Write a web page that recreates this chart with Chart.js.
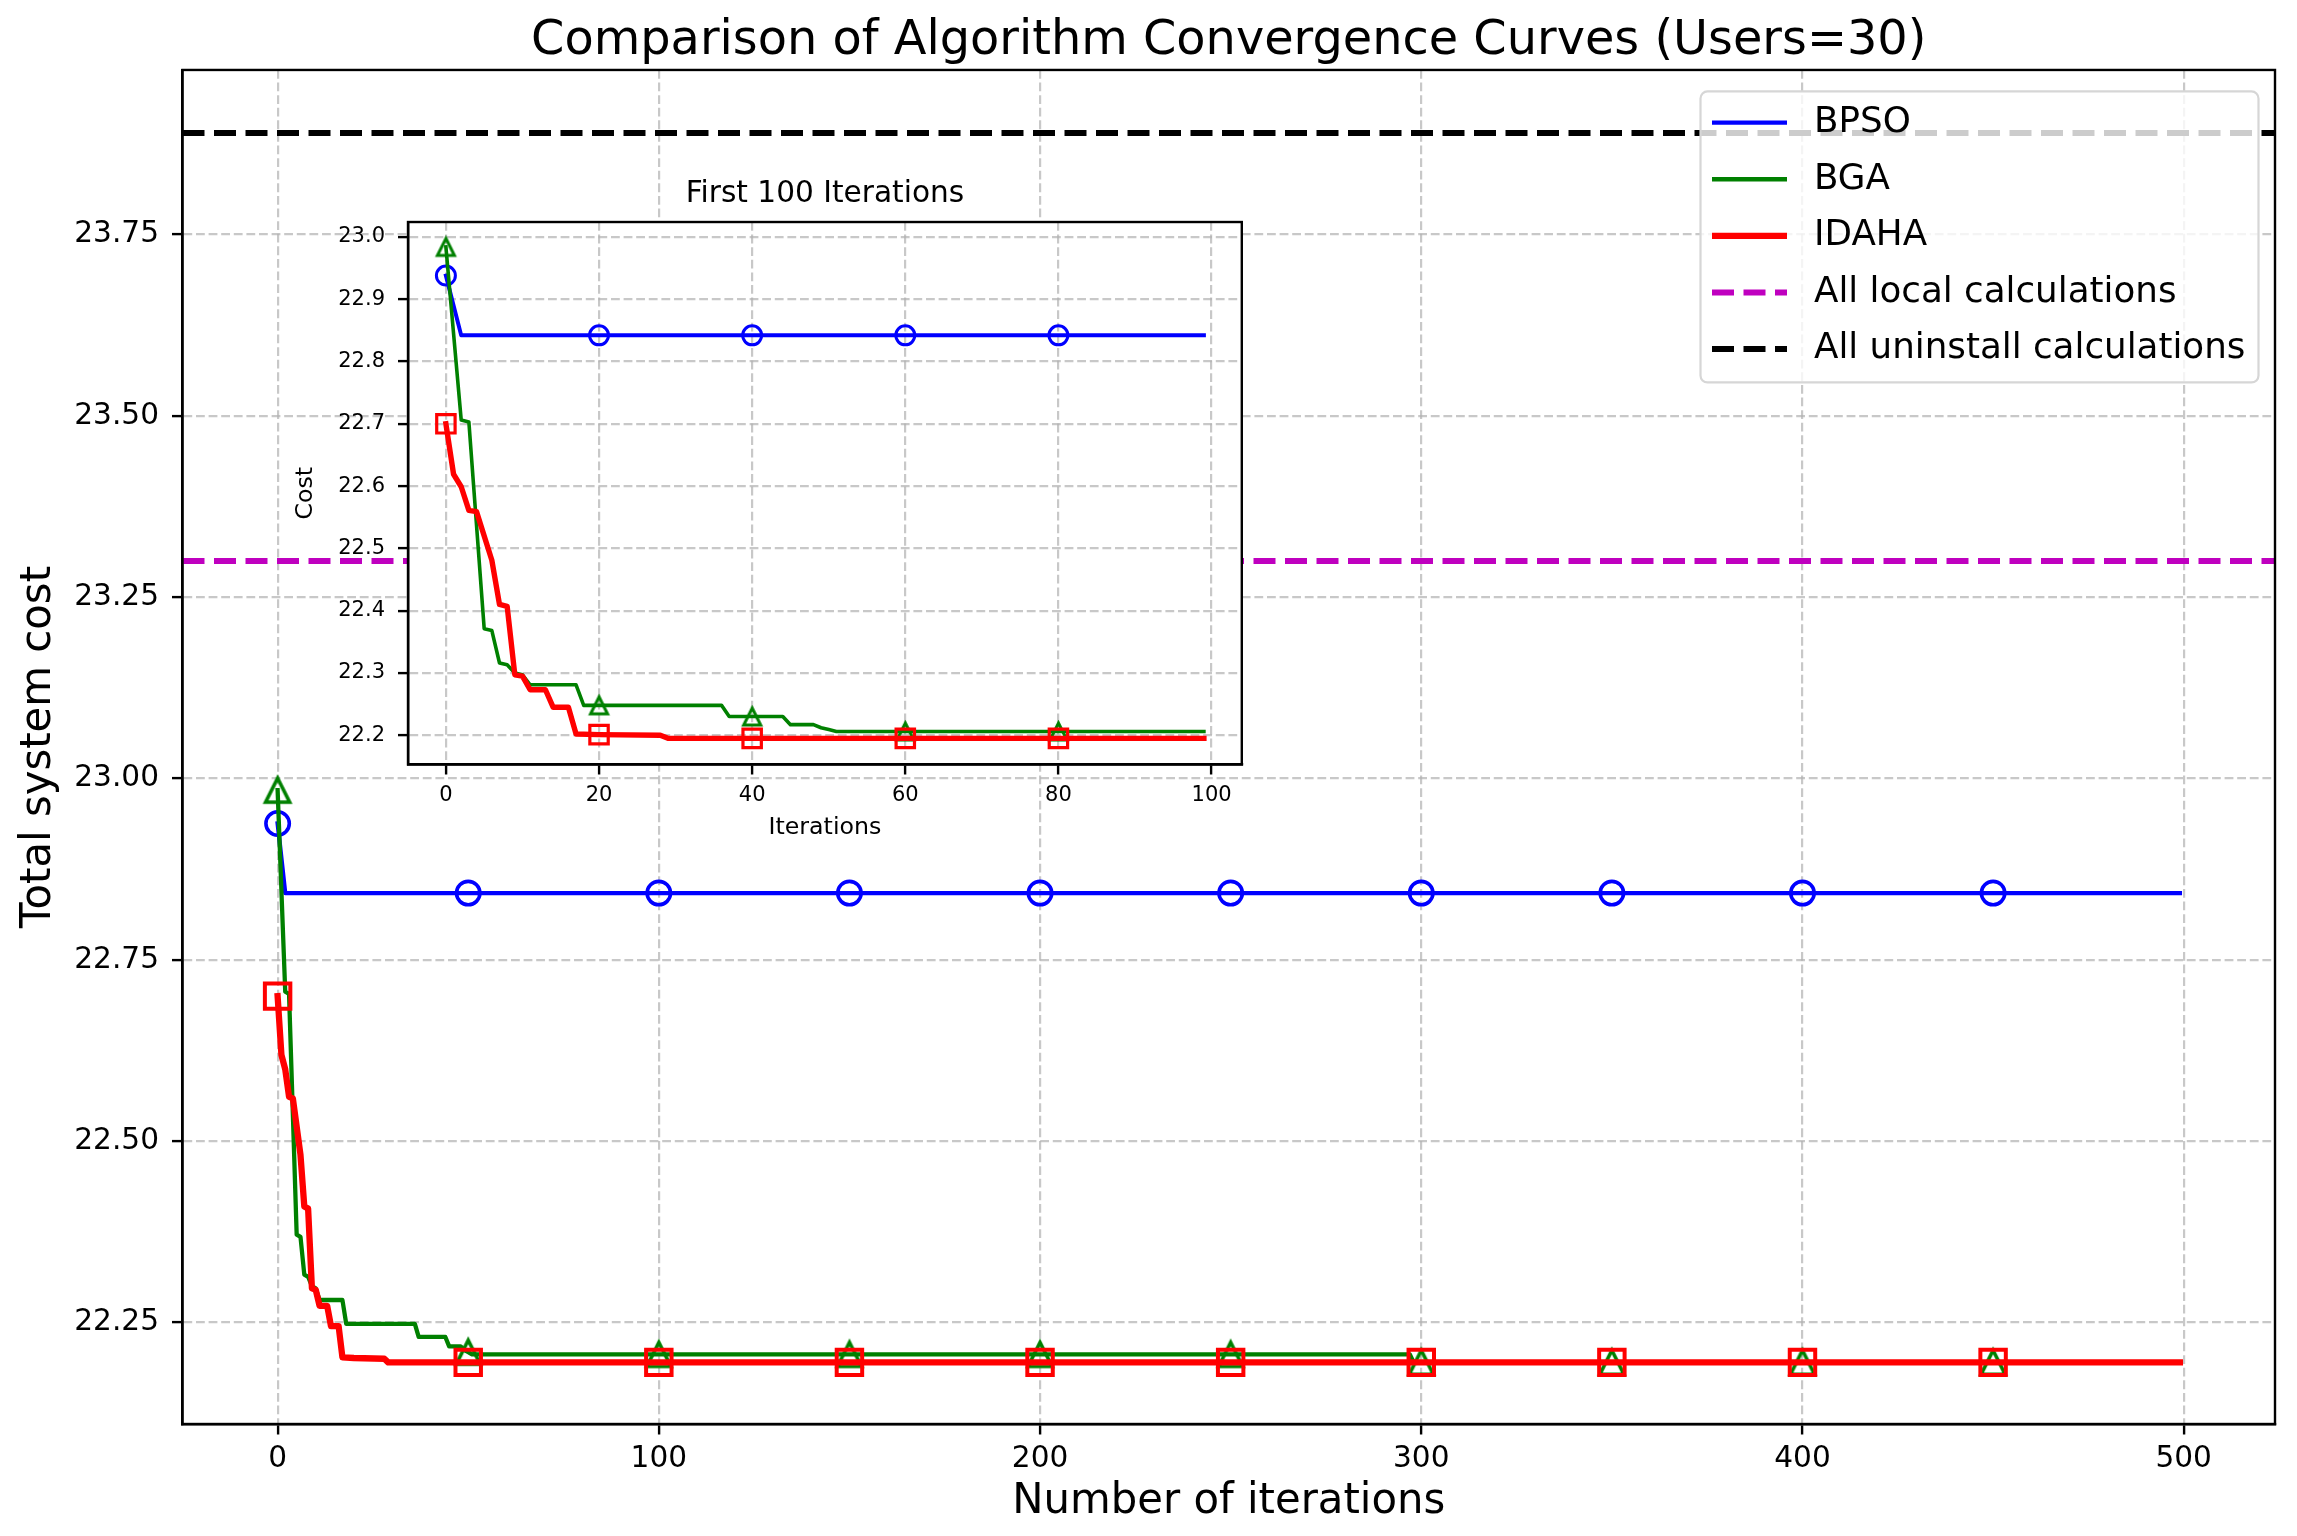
<!DOCTYPE html>
<html>
<head>
<meta charset="utf-8">
<title>Comparison of Algorithm Convergence Curves (Users=30)</title>
<script src="https://cdn.jsdelivr.net/npm/chart.js@4.4.1/dist/chart.umd.min.js"></script>
<style>
  html, body { margin: 0; padding: 0; background: #fff; }
  #wrap { position: relative; width: 2297px; height: 1536px; }
  #mainChart { position: absolute; left: 0; top: 0; width: 2297px; height: 1536px; }
  #insetChart { position: absolute; left: 258px; top: 150px; width: 1000px; height: 710px; }
</style>
</head>
<body>
<div id="wrap">
  <canvas id="mainChart" width="2297" height="1536"></canvas>
  <canvas id="insetChart" width="1000" height="710"></canvas>
</div>
<script>
// iterations where the curves change (plus marker spots), and the cost read there
const bpsoIter = [0, 2, 20, 40, 50, 60, 80, 99, 100, 150, 200, 250, 300, 350, 400, 450, 499];
const bpsoCost = [22.938, 22.842, 22.842, 22.842, 22.842, 22.842, 22.842, 22.842, 22.842,
                  22.842, 22.842, 22.842, 22.842, 22.842, 22.842, 22.842, 22.842];

const bgaIter = [0, 2, 3, 5, 6, 7, 8, 9, 10, 11, 17, 18, 20, 36, 37, 40, 44, 45, 48, 49,
                 50, 51, 60, 80, 99, 100, 150, 200, 250, 297, 298, 300, 350, 400, 450, 499];
const bgaCost = [22.984, 22.706, 22.703, 22.371, 22.368, 22.316, 22.313, 22.300, 22.297, 22.281,
                 22.281, 22.248, 22.248, 22.248, 22.230, 22.230, 22.230, 22.217, 22.217, 22.212,
                 22.209, 22.206, 22.206, 22.206, 22.206, 22.206, 22.206, 22.206, 22.206, 22.206,
                 22.195, 22.195, 22.195, 22.195, 22.195, 22.195];

const idahaIter = [0, 1, 2, 3, 4, 6, 7, 8, 9, 10, 11, 13, 14, 16, 17, 20, 28, 29, 40, 50,
                   60, 80, 99, 100, 150, 200, 250, 300, 350, 400, 450, 499];
const idahaCost = [22.700, 22.619, 22.599, 22.561, 22.559, 22.481, 22.410, 22.407, 22.297, 22.295,
                   22.273, 22.273, 22.245, 22.245, 22.202, 22.201, 22.200, 22.195, 22.195, 22.195,
                   22.195, 22.195, 22.195, 22.195, 22.195, 22.195, 22.195, 22.195, 22.195, 22.195,
                   22.195, 22.195];

const localCost = 23.30;      // All local calculations
const uninstallCost = 23.89;  // All uninstall calculations

const mainMarks = [0, 50, 100, 150, 200, 250, 300, 350, 400, 450];
const insetMarks = [0, 20, 40, 60, 80];

const xTicks = [0, 100, 200, 300, 400, 500];
const xTickLabels = ['0', '100', '200', '300', '400', '500'];
const yTicks = [22.25, 22.50, 22.75, 23.00, 23.25, 23.50, 23.75];
const yTickLabels = ['22.25', '22.50', '22.75', '23.00', '23.25', '23.50', '23.75'];

const insetXTicks = [0, 20, 40, 60, 80, 100];
const insetXTickLabels = ['0', '20', '40', '60', '80', '100'];
const insetYTicks = [22.2, 22.3, 22.4, 22.5, 22.6, 22.7, 22.8, 22.9, 23.0];
const insetYTickLabels = ['22.2', '22.3', '22.4', '22.5', '22.6', '22.7', '22.8', '22.9', '23.0'];

// axis limits (matplotlib-style 5% margins)
const xMin = -24.95, xMax = 523.95;
const yMin = 22.110, yMax = 23.977;
const insetXMin = -4.95, insetXMax = 103.95;
const insetYMin = 22.153, insetYMax = 23.024;

const FONT = "'DejaVu Sans', sans-serif";
Chart.defaults.font.family = FONT;
Chart.defaults.color = '#000';

function points(iters, costs, last) {
  const pts = [];
  iters.forEach((it, i) => { if (it <= last) pts.push({ x: it, y: costs[i] }); });
  return pts;
}

// open triangle drawn the matplotlib way (centred on its box)
function triangleMarker(side, lw, color) {
  const pad = Math.ceil(lw) + 3;
  const size = Math.ceil(side) + 2 * pad;
  const c = document.createElement('canvas');
  c.width = size; c.height = size;
  const g = c.getContext('2d');
  const m = size / 2, h = side / 2;
  g.strokeStyle = color;
  g.lineWidth = lw;
  g.beginPath();
  g.moveTo(m, m - h);
  g.lineTo(m + h, m + h);
  g.lineTo(m - h, m + h);
  g.closePath();
  g.stroke();
  return c;
}

const framePlugin = {
  id: 'frame',
  beforeDraw(chart, args, opts) {
    if (!opts.face) return;
    const a = chart.chartArea, ctx = chart.ctx;
    ctx.save();
    ctx.fillStyle = '#fff';
    ctx.fillRect(a.left, a.top, a.right - a.left, a.bottom - a.top);
    ctx.restore();
  },
  afterDatasetsDraw(chart, args, opts) {
    const a = chart.chartArea, ctx = chart.ctx;
    ctx.save();
    ctx.strokeStyle = '#000';
    ctx.lineWidth = opts.width;
    ctx.strokeRect(a.left, a.top, a.right - a.left, a.bottom - a.top);
    ctx.restore();
  }
};

const boxLegend = {
  id: 'boxLegend',
  afterDraw(chart, args, opts) {
    const ctx = chart.ctx, a = chart.chartArea;
    const w = 558, h = 291;
    const left = a.right - 16.5 - w, top = a.top + 21.5;
    ctx.save();
    ctx.beginPath();
    ctx.roundRect(left, top, w, h, 7);
    ctx.fillStyle = 'rgba(255,255,255,0.8)';
    ctx.fill();
    ctx.lineWidth = 2.2;
    ctx.strokeStyle = '#d6d6d6';
    ctx.stroke();
    ctx.font = '35.7px ' + FONT;
    ctx.textBaseline = 'middle';
    ctx.textAlign = 'left';
    chart.data.datasets.forEach((ds, i) => {
      const y = top + 31.2 + i * 56.6;
      ctx.strokeStyle = ds.borderColor;
      ctx.lineWidth = ds.borderWidth;
      ctx.setLineDash(ds.borderDash || []);
      ctx.lineCap = 'butt';
      ctx.beginPath();
      ctx.moveTo(left + 11.5, y);
      ctx.lineTo(left + 86.5, y);
      ctx.stroke();
      ctx.setLineDash([]);
      ctx.fillStyle = '#000';
      ctx.fillText(ds.label, left + 113.5, y);
    });
    ctx.restore();
  }
};

function gridOpts(tickLen) {
  return {
    color: 'rgba(176,176,176,0.7)',
    lineWidth: 2.2,
    tickColor: '#000',
    tickWidth: 2.4,
    tickLength: tickLen,
    tickBorderDash: []
  };
}

function markRadius(marks, r) {
  return (c) => (c.raw && marks.includes(c.raw.x)) ? r : 0;
}

// ---------- main chart ----------
new Chart(document.getElementById('mainChart'), {
  type: 'line',
  data: {
    datasets: [
      {
        label: 'BPSO', data: points(bpsoIter, bpsoCost, 499), order: 3,
        borderColor: '#0000ff', borderWidth: 4.3, borderJoinStyle: 'round', borderCapStyle: 'square',
        pointStyle: 'circle', pointRadius: markRadius(mainMarks, 11.7), pointBorderWidth: 3.6,
        pointBorderColor: '#0000ff', pointBackgroundColor: 'rgba(0,0,0,0)'
      },
      {
        label: 'BGA', data: points(bgaIter, bgaCost, 499), order: 2,
        borderColor: '#008000', borderWidth: 4.3, borderJoinStyle: 'round', borderCapStyle: 'square',
        pointStyle: triangleMarker(24, 3.6, '#008000'), pointRadius: markRadius(mainMarks, 12),
        pointBorderColor: '#008000', pointBackgroundColor: 'rgba(0,0,0,0)'
      },
      {
        label: 'IDAHA', data: points(idahaIter, idahaCost, 499), order: 1,
        borderColor: '#ff0000', borderWidth: 6.3, borderJoinStyle: 'round', borderCapStyle: 'square',
        pointStyle: 'rect', pointRadius: markRadius(mainMarks, 18), pointBorderWidth: 4,
        pointBorderColor: '#ff0000', pointBackgroundColor: 'rgba(0,0,0,0)'
      },
      {
        label: 'All local calculations', data: [{ x: xMin, y: localCost }, { x: xMax, y: localCost }], order: 4,
        borderColor: '#bf00bf', borderWidth: 5.9, borderDash: [22, 9.5], borderCapStyle: 'butt', pointRadius: 0
      },
      {
        label: 'All uninstall calculations', data: [{ x: xMin, y: uninstallCost }, { x: xMax, y: uninstallCost }], order: 5,
        borderColor: '#000000', borderWidth: 5.9, borderDash: [22, 9.5], borderCapStyle: 'butt', pointRadius: 0
      }
    ]
  },
  options: {
    responsive: false,
    devicePixelRatio: 1,
    animation: false,
    events: [],
    layout: { padding: { left: 0, top: 0, right: 19, bottom: 0 } },
    elements: { line: { tension: 0 } },
    plugins: {
      legend: { display: false },
      tooltip: { enabled: false },
      title: {
        display: true, fullSize: false,
        text: 'Comparison of Algorithm Convergence Curves (Users=30)',
        font: { size: 47.8, weight: 'normal' }, color: '#000',
        padding: { top: 12.6, bottom: 0 }
      },
      frame: { width: 2.4, face: false }
    },
    scales: {
      x: {
        type: 'linear', min: xMin, max: xMax,
        afterFit: (s) => { s.height = 112; },
        afterBuildTicks: (s) => { s.ticks = xTicks.map(v => ({ value: v })); },
        ticks: { callback: (v, i) => xTickLabels[i], font: { size: 29.6 }, color: '#000', padding: 7, autoSkip: false, maxRotation: 0 },
        grid: gridOpts(10.5),
        border: { display: true, color: '#000', width: 2.4, dash: [8.8, 3.8] },
        title: { display: true, text: 'Number of iterations', font: { size: 41.8 }, color: '#000', padding: { top: 0, bottom: 8.4 } }
      },
      y: {
        type: 'linear', min: yMin, max: yMax,
        afterFit: (s) => { s.width = 182.5; },
        afterBuildTicks: (s) => { s.ticks = yTicks.map(v => ({ value: v })); },
        ticks: { callback: (v, i) => yTickLabels[i], font: { size: 29.6 }, color: '#000', padding: 13, autoSkip: false },
        grid: gridOpts(10.5),
        border: { display: true, color: '#000', width: 2.4, dash: [8.8, 3.8] },
        title: { display: true, text: 'Total system cost', font: { size: 41.8 }, color: '#000', padding: { top: 14.5, bottom: 0 } }
      }
    }
  },
  plugins: [framePlugin, boxLegend]
});

// ---------- inset: first 100 iterations ----------
new Chart(document.getElementById('insetChart'), {
  type: 'line',
  data: {
    datasets: [
      {
        label: 'BPSO', data: points(bpsoIter, bpsoCost, 99), order: 3,
        borderColor: '#0000ff', borderWidth: 4, borderJoinStyle: 'round', borderCapStyle: 'square',
        pointStyle: 'circle', pointRadius: markRadius(insetMarks, 9.5), pointBorderWidth: 3,
        pointBorderColor: '#0000ff', pointBackgroundColor: 'rgba(0,0,0,0)'
      },
      {
        label: 'BGA', data: points(bgaIter, bgaCost, 99), order: 2,
        borderColor: '#008000', borderWidth: 3.6, borderJoinStyle: 'round', borderCapStyle: 'square',
        pointStyle: triangleMarker(17, 3, '#008000'), pointRadius: markRadius(insetMarks, 9),
        pointBorderColor: '#008000', pointBackgroundColor: 'rgba(0,0,0,0)'
      },
      {
        label: 'IDAHA', data: points(idahaIter, idahaCost, 99), order: 1,
        borderColor: '#ff0000', borderWidth: 5.4, borderJoinStyle: 'round', borderCapStyle: 'square',
        pointStyle: 'rect', pointRadius: markRadius(insetMarks, 13), pointBorderWidth: 3.2,
        pointBorderColor: '#ff0000', pointBackgroundColor: 'rgba(0,0,0,0)'
      }
    ]
  },
  options: {
    responsive: false,
    devicePixelRatio: 1,
    animation: false,
    events: [],
    layout: { padding: { left: 0, top: 0, right: 13, bottom: 0 } },
    elements: { line: { tension: 0 } },
    plugins: {
      legend: { display: false },
      tooltip: { enabled: false },
      title: {
        display: true, fullSize: false, text: 'First 100 Iterations',
        font: { size: 29.6, weight: 'normal' }, color: '#000',
        padding: { top: 26.4, bottom: 10.1 }
      },
      frame: { width: 2.4, face: true }
    },
    scales: {
      x: {
        type: 'linear', min: insetXMin, max: insetXMax,
        afterFit: (s) => { s.height = 95.5; },
        afterBuildTicks: (s) => { s.ticks = insetXTicks.map(v => ({ value: v })); },
        ticks: { callback: (v, i) => insetXTickLabels[i], font: { size: 21 }, color: '#000', padding: 8.5, autoSkip: false, maxRotation: 0 },
        grid: gridOpts(10),
        border: { display: true, color: '#000', width: 2.4, dash: [8.8, 3.8] },
        title: { display: true, text: 'Iterations', font: { size: 23.7 }, color: '#000', padding: { top: 0, bottom: 18 } }
      },
      y: {
        type: 'linear', min: insetYMin, max: insetYMax,
        afterFit: (s) => { s.width = 150; },
        afterBuildTicks: (s) => { s.ticks = insetYTicks.map(v => ({ value: v })); },
        ticks: { callback: (v, i) => insetYTickLabels[i], font: { size: 21 }, color: '#000', padding: 13, autoSkip: false },
        grid: gridOpts(10),
        border: { display: true, color: '#000', width: 2.4, dash: [8.8, 3.8] },
        title: { display: true, text: 'Cost', font: { size: 23.7 }, color: '#000', padding: { top: 34, bottom: 0 } }
      }
    }
  },
  plugins: [framePlugin]
});
</script>
</body>
</html>
